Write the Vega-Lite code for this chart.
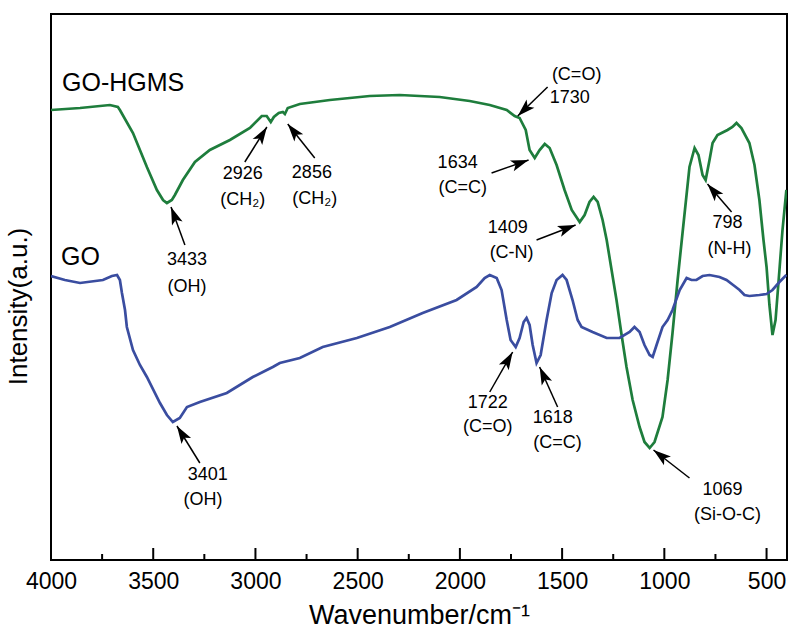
{
  "$schema": "https://vega.github.io/schema/vega-lite/v6.json",
  "width": 736,
  "height": 546,
  "autosize": "none",
  "padding": {"left": 51, "top": 14, "right": 13, "bottom": 74},
  "config": {
    "view": {"stroke": "black", "strokeWidth": 2},
    "font": "Liberation Sans",
    "text": {"font": "Liberation Sans"}
  },
  "datasets": {
    "spectra": [
      {"s":"GO-HGMS","wn":4000,"I":450},{"s":"GO-HGMS","wn":3858,"I":452},{"s":"GO-HGMS","wn":3712,"I":455},{"s":"GO-HGMS","wn":3673,"I":453},{"s":"GO-HGMS","wn":3663,"I":450},{"s":"GO-HGMS","wn":3599,"I":427},{"s":"GO-HGMS","wn":3531,"I":393},{"s":"GO-HGMS","wn":3482,"I":370},{"s":"GO-HGMS","wn":3452,"I":360},{"s":"GO-HGMS","wn":3433,"I":357},{"s":"GO-HGMS","wn":3409,"I":360},{"s":"GO-HGMS","wn":3394,"I":365},{"s":"GO-HGMS","wn":3355,"I":380},{"s":"GO-HGMS","wn":3296,"I":398},{"s":"GO-HGMS","wn":3223,"I":410},{"s":"GO-HGMS","wn":3125,"I":420},{"s":"GO-HGMS","wn":3027,"I":432},{"s":"GO-HGMS","wn":2969,"I":444},{"s":"GO-HGMS","wn":2945,"I":444},{"s":"GO-HGMS","wn":2925,"I":438},{"s":"GO-HGMS","wn":2910,"I":443},{"s":"GO-HGMS","wn":2886,"I":447},{"s":"GO-HGMS","wn":2866,"I":448},{"s":"GO-HGMS","wn":2856,"I":446},{"s":"GO-HGMS","wn":2842,"I":452},{"s":"GO-HGMS","wn":2783,"I":456},{"s":"GO-HGMS","wn":2636,"I":460},{"s":"GO-HGMS","wn":2441,"I":464},{"s":"GO-HGMS","wn":2294,"I":465},{"s":"GO-HGMS","wn":2099,"I":463},{"s":"GO-HGMS","wn":1952,"I":459},{"s":"GO-HGMS","wn":1854,"I":455},{"s":"GO-HGMS","wn":1771,"I":450},{"s":"GO-HGMS","wn":1732,"I":444},{"s":"GO-HGMS","wn":1708,"I":442},{"s":"GO-HGMS","wn":1678,"I":430},{"s":"GO-HGMS","wn":1659,"I":410},{"s":"GO-HGMS","wn":1634,"I":402},{"s":"GO-HGMS","wn":1610,"I":410},{"s":"GO-HGMS","wn":1585,"I":416},{"s":"GO-HGMS","wn":1561,"I":412},{"s":"GO-HGMS","wn":1527,"I":395},{"s":"GO-HGMS","wn":1488,"I":370},{"s":"GO-HGMS","wn":1453,"I":350},{"s":"GO-HGMS","wn":1414,"I":338},{"s":"GO-HGMS","wn":1390,"I":345},{"s":"GO-HGMS","wn":1366,"I":358},{"s":"GO-HGMS","wn":1346,"I":363},{"s":"GO-HGMS","wn":1326,"I":358},{"s":"GO-HGMS","wn":1302,"I":340},{"s":"GO-HGMS","wn":1282,"I":320},{"s":"GO-HGMS","wn":1258,"I":290},{"s":"GO-HGMS","wn":1234,"I":260},{"s":"GO-HGMS","wn":1209,"I":225},{"s":"GO-HGMS","wn":1185,"I":193},{"s":"GO-HGMS","wn":1155,"I":160},{"s":"GO-HGMS","wn":1121,"I":133},{"s":"GO-HGMS","wn":1097,"I":118},{"s":"GO-HGMS","wn":1072,"I":112},{"s":"GO-HGMS","wn":1048,"I":118},{"s":"GO-HGMS","wn":1009,"I":143},{"s":"GO-HGMS","wn":984,"I":180},{"s":"GO-HGMS","wn":960,"I":227},{"s":"GO-HGMS","wn":935,"I":280},{"s":"GO-HGMS","wn":911,"I":327},{"s":"GO-HGMS","wn":877,"I":393},{"s":"GO-HGMS","wn":852,"I":412},{"s":"GO-HGMS","wn":833,"I":405},{"s":"GO-HGMS","wn":813,"I":385},{"s":"GO-HGMS","wn":798,"I":380},{"s":"GO-HGMS","wn":779,"I":400},{"s":"GO-HGMS","wn":764,"I":417},{"s":"GO-HGMS","wn":740,"I":425},{"s":"GO-HGMS","wn":720,"I":427},{"s":"GO-HGMS","wn":691,"I":430},{"s":"GO-HGMS","wn":667,"I":433},{"s":"GO-HGMS","wn":647,"I":437},{"s":"GO-HGMS","wn":623,"I":432},{"s":"GO-HGMS","wn":584,"I":417},{"s":"GO-HGMS","wn":559,"I":395},{"s":"GO-HGMS","wn":535,"I":360},{"s":"GO-HGMS","wn":515,"I":320},{"s":"GO-HGMS","wn":500,"I":293},{"s":"GO-HGMS","wn":486,"I":255},{"s":"GO-HGMS","wn":471,"I":225},{"s":"GO-HGMS","wn":456,"I":240},{"s":"GO-HGMS","wn":437,"I":290},{"s":"GO-HGMS","wn":422,"I":330},{"s":"GO-HGMS","wn":403,"I":370},
      {"s":"GO","wn":4000,"I":284},{"s":"GO","wn":3932,"I":280},{"s":"GO","wn":3858,"I":277},{"s":"GO","wn":3746,"I":280},{"s":"GO","wn":3702,"I":284},{"s":"GO","wn":3677,"I":285},{"s":"GO","wn":3663,"I":280},{"s":"GO","wn":3653,"I":267},{"s":"GO","wn":3638,"I":250},{"s":"GO","wn":3629,"I":233},{"s":"GO","wn":3599,"I":210},{"s":"GO","wn":3565,"I":195},{"s":"GO","wn":3531,"I":183},{"s":"GO","wn":3467,"I":157},{"s":"GO","wn":3433,"I":145},{"s":"GO","wn":3404,"I":138},{"s":"GO","wn":3370,"I":142},{"s":"GO","wn":3335,"I":153},{"s":"GO","wn":3272,"I":158},{"s":"GO","wn":3140,"I":167},{"s":"GO","wn":3013,"I":183},{"s":"GO","wn":2954,"I":189},{"s":"GO","wn":2915,"I":193},{"s":"GO","wn":2881,"I":197},{"s":"GO","wn":2783,"I":202},{"s":"GO","wn":2671,"I":213},{"s":"GO","wn":2504,"I":222},{"s":"GO","wn":2343,"I":233},{"s":"GO","wn":2182,"I":247},{"s":"GO","wn":2016,"I":260},{"s":"GO","wn":1918,"I":273},{"s":"GO","wn":1879,"I":282},{"s":"GO","wn":1854,"I":285},{"s":"GO","wn":1820,"I":282},{"s":"GO","wn":1796,"I":270},{"s":"GO","wn":1771,"I":240},{"s":"GO","wn":1752,"I":220},{"s":"GO","wn":1727,"I":213},{"s":"GO","wn":1708,"I":222},{"s":"GO","wn":1688,"I":238},{"s":"GO","wn":1674,"I":242},{"s":"GO","wn":1659,"I":235},{"s":"GO","wn":1644,"I":215},{"s":"GO","wn":1625,"I":197},{"s":"GO","wn":1605,"I":205},{"s":"GO","wn":1576,"I":240},{"s":"GO","wn":1551,"I":267},{"s":"GO","wn":1527,"I":280},{"s":"GO","wn":1498,"I":285},{"s":"GO","wn":1478,"I":280},{"s":"GO","wn":1449,"I":260},{"s":"GO","wn":1424,"I":240},{"s":"GO","wn":1405,"I":233},{"s":"GO","wn":1351,"I":228},{"s":"GO","wn":1282,"I":222},{"s":"GO","wn":1219,"I":222},{"s":"GO","wn":1170,"I":228},{"s":"GO","wn":1146,"I":233},{"s":"GO","wn":1121,"I":228},{"s":"GO","wn":1097,"I":215},{"s":"GO","wn":1072,"I":205},{"s":"GO","wn":1057,"I":203},{"s":"GO","wn":1038,"I":215},{"s":"GO","wn":1009,"I":233},{"s":"GO","wn":984,"I":240},{"s":"GO","wn":960,"I":250},{"s":"GO","wn":925,"I":270},{"s":"GO","wn":891,"I":282},{"s":"GO","wn":867,"I":280},{"s":"GO","wn":843,"I":280},{"s":"GO","wn":813,"I":284},{"s":"GO","wn":779,"I":285},{"s":"GO","wn":730,"I":283},{"s":"GO","wn":696,"I":280},{"s":"GO","wn":657,"I":274},{"s":"GO","wn":632,"I":270},{"s":"GO","wn":608,"I":265},{"s":"GO","wn":584,"I":264},{"s":"GO","wn":535,"I":265},{"s":"GO","wn":500,"I":266},{"s":"GO","wn":471,"I":270},{"s":"GO","wn":437,"I":278},{"s":"GO","wn":403,"I":285}
    ],
    "majorTicks": [{"wn":4000},{"wn":3500},{"wn":3000},{"wn":2500},{"wn":2000},{"wn":1500},{"wn":1000},{"wn":500}],
    "minorTicks": [{"wn":3750},{"wn":3250},{"wn":2750},{"wn":2250},{"wn":1750},{"wn":1250},{"wn":750}],
    "arrows": [
      {"tx":3345,"ty":315,"hx":3413,"hy":353,"ang":-20.7},
      {"tx":3052,"ty":398,"hx":2944,"hy":433,"ang":32.2},
      {"tx":2710,"ty":402,"hx":2842,"hy":436,"ang":-38.5},
      {"tx":1571,"ty":473,"hx":1717,"hy":444,"ang":-134},
      {"tx":1845,"ty":387,"hx":1664,"hy":400,"ang":70.6},
      {"tx":1625,"ty":320,"hx":1434,"hy":335,"ang":69},
      {"tx":671,"ty":348,"hx":789,"hy":376,"ang":-40.6},
      {"tx":3272,"ty":97,"hx":3384,"hy":134,"ang":-31.9},
      {"tx":1854,"ty":168,"hx":1742,"hy":208,"ang":29.9},
      {"tx":1522,"ty":153,"hx":1610,"hy":193,"ang":-24.2},
      {"tx":877,"ty":82,"hx":1053,"hy":110,"ang":-52}
    ],
    "labels": [
      {"t":"3433","x":3335,"y":300},{"t":"(OH)","x":3335,"y":273},
      {"t":"2926","x":3062,"y":386},{"t":"(CH₂)","x":3062,"y":360},
      {"t":"2856","x":2724,"y":387},{"t":"(CH₂)","x":2710,"y":361},
      {"t":"(C=O)","x":1429,"y":485},{"t":"1730","x":1463,"y":462},
      {"t":"1634","x":2011,"y":397},{"t":"(C=C)","x":1986,"y":372},
      {"t":"1409","x":1766,"y":332},{"t":"(C-N)","x":1747,"y":307},
      {"t":"798","x":691,"y":337},{"t":"(N-H)","x":681,"y":311},
      {"t":"3401","x":3233,"y":85},{"t":"(OH)","x":3257,"y":60},
      {"t":"1722","x":1864,"y":157},{"t":"(C=O)","x":1864,"y":133},
      {"t":"1618","x":1546,"y":142},{"t":"(C=C)","x":1522,"y":117},
      {"t":"1069","x":715,"y":70},{"t":"(Si-O-C)","x":691,"y":45}
    ],
    "series": [
      {"t":"GO-HGMS","x":3946,"y":477},
      {"t":"GO","x":3951,"y":303}
    ]
  },
  "layer": [
    {
      "data": {"name": "spectra"},
      "mark": {"type": "line", "strokeWidth": 2.7, "clip": true},
      "encoding": {
        "x": {
          "field": "wn", "type": "quantitative",
          "scale": {"domain": [400, 4000], "reverse": true, "nice": false, "zero": false},
          "axis": {
            "title": "Wavenumber/cm⁻¹",
            "values": [4000, 3500, 3000, 2500, 2000, 1500, 1000, 500],
            "format": "d",
            "labelFontSize": 23,
            "labelColor": "black",
            "labelFont": "Liberation Sans",
            "labelPadding": 10,
            "labelFlush": false,
            "labelOverlap": false,
            "ticks": false,
            "domain": false,
            "grid": false,
            "titleFontSize": 27,
            "titleFontWeight": "normal",
            "titleFont": "Liberation Sans",
            "titleColor": "black",
            "titleBaseline": "alphabetic",
            "titleY": 63
          }
        },
        "y": {
          "field": "I", "type": "quantitative",
          "scale": {"domain": [0, 546], "nice": false, "zero": false},
          "axis": {
            "title": "Intensity(a.u.)",
            "labels": false, "ticks": false, "domain": false, "grid": false,
            "titleFontSize": 26,
            "titleFontWeight": "normal",
            "titleFont": "Liberation Sans",
            "titleColor": "black",
            "titleAngle": -90,
            "titleAlign": "center",
            "titleBaseline": "alphabetic",
            "titleX": -25,
            "titleY": 292
          }
        },
        "color": {
          "field": "s", "type": "nominal",
          "scale": {"domain": ["GO-HGMS", "GO"], "range": ["#1e7d3c", "#3a4da0"]},
          "legend": null
        }
      }
    },
    {
      "data": {"name": "majorTicks"},
      "mark": {"type": "rule", "color": "black", "strokeWidth": 2},
      "encoding": {
        "x": {"field": "wn", "type": "quantitative"},
        "y": {"datum": 0, "type": "quantitative"},
        "y2": {"datum": 12}
      }
    },
    {
      "data": {"name": "minorTicks"},
      "mark": {"type": "rule", "color": "black", "strokeWidth": 2},
      "encoding": {
        "x": {"field": "wn", "type": "quantitative"},
        "y": {"datum": 0, "type": "quantitative"},
        "y2": {"datum": 6}
      }
    },
    {
      "data": {"name": "arrows"},
      "mark": {"type": "rule", "color": "black", "strokeWidth": 1.5},
      "encoding": {
        "x": {"field": "tx", "type": "quantitative"},
        "y": {"field": "ty", "type": "quantitative"},
        "x2": {"field": "hx"},
        "y2": {"field": "hy"}
      }
    },
    {
      "data": {"name": "arrows"},
      "mark": {"type": "point", "shape": "M0,0L-0.7,2.2L0,1.7L0.7,2.2Z", "filled": true, "color": "black", "size": 260, "opacity": 1, "strokeWidth": 0},
      "encoding": {
        "x": {"field": "hx", "type": "quantitative"},
        "y": {"field": "hy", "type": "quantitative"},
        "angle": {"field": "ang", "type": "quantitative", "scale": null}
      }
    },
    {
      "data": {"name": "labels"},
      "mark": {"type": "text", "fontSize": 18, "align": "center", "baseline": "middle", "color": "black", "font": "Liberation Sans"},
      "encoding": {
        "x": {"field": "x", "type": "quantitative"},
        "y": {"field": "y", "type": "quantitative"},
        "text": {"field": "t"}
      }
    },
    {
      "data": {"name": "series"},
      "mark": {"type": "text", "fontSize": 25, "align": "left", "baseline": "middle", "color": "black", "font": "Liberation Sans"},
      "encoding": {
        "x": {"field": "x", "type": "quantitative"},
        "y": {"field": "y", "type": "quantitative"},
        "text": {"field": "t"}
      }
    }
  ]
}
